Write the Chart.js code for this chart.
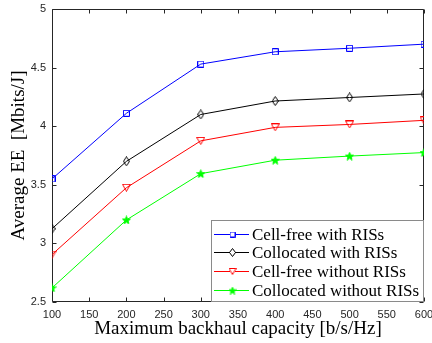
<!DOCTYPE html>
<html>
<head>
<meta charset="utf-8">
<script src="https://cdn.jsdelivr.net/npm/chart.js@4.4.1/dist/chart.umd.min.js"></script>
<style>
  html, body { margin: 0; padding: 0; background: #fff; }
  canvas { display: block; }
</style>
</head>
<body>
<canvas id="eeChart" width="432" height="343"></canvas>
<script>
// data
const backhaul = [100, 200, 300, 400, 500, 600];
const cellFreeRIS = [3.55, 4.11, 4.53, 4.635, 4.665, 4.70];
const collocatedRIS = [3.125, 3.70, 4.10, 4.215, 4.245, 4.275];
const cellFreeNoRIS = [2.905, 3.475, 3.875, 3.99, 4.015, 4.05];
const collocatedNoRIS = [2.62, 3.20, 3.595, 3.71, 3.745, 3.775];

const seriesNames = ['Cell-free with RISs', 'Collocated with RISs', 'Cell-free without RISs', 'Collocated without RISs'];
const xTicks = [100, 150, 200, 250, 300, 350, 400, 450, 500, 550, 600];
const yTicks = [2.5, 3, 3.5, 4, 4.5, 5];

// little canvases used as MATLAB-like markers
function marker(kind, color, big) {
    const c = document.createElement('canvas');
    let pts;
    if (kind === 'square') {
        const s = big ? 6 : 5;
        c.width = c.height = s + 1;
        pts = [[0.5, 0.5], [s + 0.5, 0.5], [s + 0.5, s + 0.5], [0.5, s + 0.5]];
    } else if (kind === 'diamond') {
        const w = big ? 7 : 7, h = big ? 10 : 9;
        c.width = w; c.height = h;
        pts = [[w / 2, 0.5], [w - 0.5, h / 2], [w / 2, h - 0.5], [0.5, h / 2]];
    } else if (kind === 'triangle') {
        const w = big ? 9 : 8, h = big ? 8 : 7;
        c.width = w; c.height = h;
        pts = [[0.5, 0.5], [w - 0.5, 0.5], [w / 2, h - 0.5]];
    } else {
        const s = big ? 9 : 8;
        c.width = c.height = s;
        const R = s / 2 - 0.3, r = R * 0.42, cx = s / 2, cy = s / 2 + 0.4;
        pts = [];
        for (let i = 0; i < 10; i++) {
            const a = -Math.PI / 2 + i * Math.PI / 5;
            const rr = i % 2 ? r : R;
            pts.push([cx + rr * Math.cos(a), cy + rr * Math.sin(a)]);
        }
    }
    const g = c.getContext('2d');
    g.strokeStyle = color;
    g.fillStyle = color;
    g.lineWidth = 1;
    g.beginPath();
    pts.forEach((p, i) => i ? g.lineTo(p[0], p[1]) : g.moveTo(p[0], p[1]));
    g.closePath();
    if (kind === 'star') g.fill();
    g.stroke();
    return c;
}

const styles = [
    { color: '#0000ff', kind: 'square', values: cellFreeRIS },
    { color: '#000000', kind: 'diamond', values: collocatedRIS },
    { color: '#ff0000', kind: 'triangle', values: cellFreeNoRIS },
    { color: '#00ff00', kind: 'star', values: collocatedNoRIS }
];

const datasets = styles.map((s, i) => ({
    label: seriesNames[i],
    data: backhaul.map((x, j) => ({ x: x, y: s.values[j] })),
    borderColor: s.color,
    backgroundColor: s.color,
    borderWidth: 1,
    tension: 0,
    fill: false,
    pointStyle: marker(s.kind, s.color, true),
    legendMarker: marker(s.kind, s.color, false)
}));

// axes box with inward ticks on all four sides
const framePlugin = {
    id: 'frame',
    beforeDatasetsDraw(chart) {
        const { ctx, chartArea: a, scales } = chart;
        const L = a.left + 0.5, R = a.right - 0.5, T = a.top + 0.5, B = a.bottom - 0.5;
        ctx.save();
        ctx.strokeStyle = '#262626';
        ctx.lineWidth = 1;
        ctx.beginPath();
        ctx.rect(L, T, R - L, B - T);
        scales.x.ticks.forEach(t => {
            const px = Math.round(scales.x.getPixelForValue(t.value)) + 0.5;
            ctx.moveTo(px, T); ctx.lineTo(px, T + 4);
            ctx.moveTo(px, B); ctx.lineTo(px, B - 4);
        });
        scales.y.ticks.forEach(t => {
            const py = Math.round(scales.y.getPixelForValue(t.value)) + 0.5;
            ctx.moveTo(L, py); ctx.lineTo(L + 4, py);
            ctx.moveTo(R, py); ctx.lineTo(R - 4, py);
        });
        ctx.stroke();
        ctx.restore();
    }
};

// legend boxed in the lower right corner of the axes
const legendPlugin = {
    id: 'boxLegend',
    afterDraw(chart) {
        const { ctx, chartArea: a } = chart;
        const w = 213, h = 82;
        const left = a.right - w, top = a.bottom - h;
        ctx.save();
        ctx.fillStyle = '#fff';
        ctx.fillRect(left, top, w, h);
        ctx.strokeStyle = '#8a8a8a';
        ctx.lineWidth = 1;
        ctx.strokeRect(left + 0.5, top + 0.5, w - 1, h - 1);
        ctx.font = '17px "Liberation Serif", "Times New Roman", serif';
        ctx.textBaseline = 'middle';
        ctx.textAlign = 'left';
        chart.data.datasets.forEach((ds, i) => {
            const y = Math.round(top + 13.5 + i * 18.9) + 0.5;
            ctx.strokeStyle = ds.borderColor;
            ctx.beginPath();
            ctx.moveTo(left + 3, y);
            ctx.lineTo(left + 38, y);
            ctx.stroke();
            // white behind the marker so the line does not run through it
            ctx.fillStyle = '#fff';
            if (i < 3) ctx.fillRect(left + 19, y - 2, 5, 4);
            Chart.helpers.drawPoint(ctx, { pointStyle: ds.legendMarker, radius: 3, rotation: 0, borderWidth: 1 }, left + 21.5, y);
            ctx.fillStyle = '#000';
            ctx.fillText(ds.label, left + 41, y + 1);
        });
        ctx.restore();
    }
};

const tickFont = { family: '"Liberation Sans", Arial, sans-serif', size: 11 };
const titleFont = { family: '"Liberation Serif", "Times New Roman", serif', size: 19 };

new Chart(document.getElementById('eeChart').getContext('2d'), {
    type: 'line',
    data: { datasets: datasets },
    options: {
        responsive: false,
        devicePixelRatio: 1,
        animation: false,
        layout: { padding: { left: 0, top: 9, right: 8, bottom: 0 } },
        plugins: {
            legend: { display: false },
            tooltip: { enabled: false }
        },
        scales: {
            x: {
                type: 'linear',
                min: 100,
                max: 600,
                afterBuildTicks: scale => { scale.ticks = xTicks.map(v => ({ value: v })); },
                afterFit: scale => {
                    scale.height = 41;
                    scale.paddingLeft = 0; scale.paddingRight = 0;
                },
                grid: { display: false, drawTicks: false },
                border: { display: false },
                ticks: { font: tickFont, color: '#262626', padding: 6, maxRotation: 0, autoSkip: false },
                title: { display: true, text: 'Maximum backhaul capacity [b/s/Hz]', font: titleFont, color: '#000', padding: { top: 0, bottom: 3 } }
            },
            y: {
                min: 2.5,
                max: 5,
                afterBuildTicks: scale => { scale.ticks = yTicks.map(v => ({ value: v })); },
                afterFit: scale => {
                    scale.width = 52;
                    scale.paddingTop = 0; scale.paddingBottom = 0;
                },
                grid: { display: false, drawTicks: false },
                border: { display: false },
                ticks: { font: tickFont, color: '#262626', padding: 6, callback: v => String(v) },
                title: { display: true, text: 'Average EE  [Mbits/J]', font: titleFont, color: '#000', padding: { top: 8, bottom: 0 } }
            }
        }
    },
    plugins: [framePlugin, legendPlugin]
});
</script>
</body>
</html>
